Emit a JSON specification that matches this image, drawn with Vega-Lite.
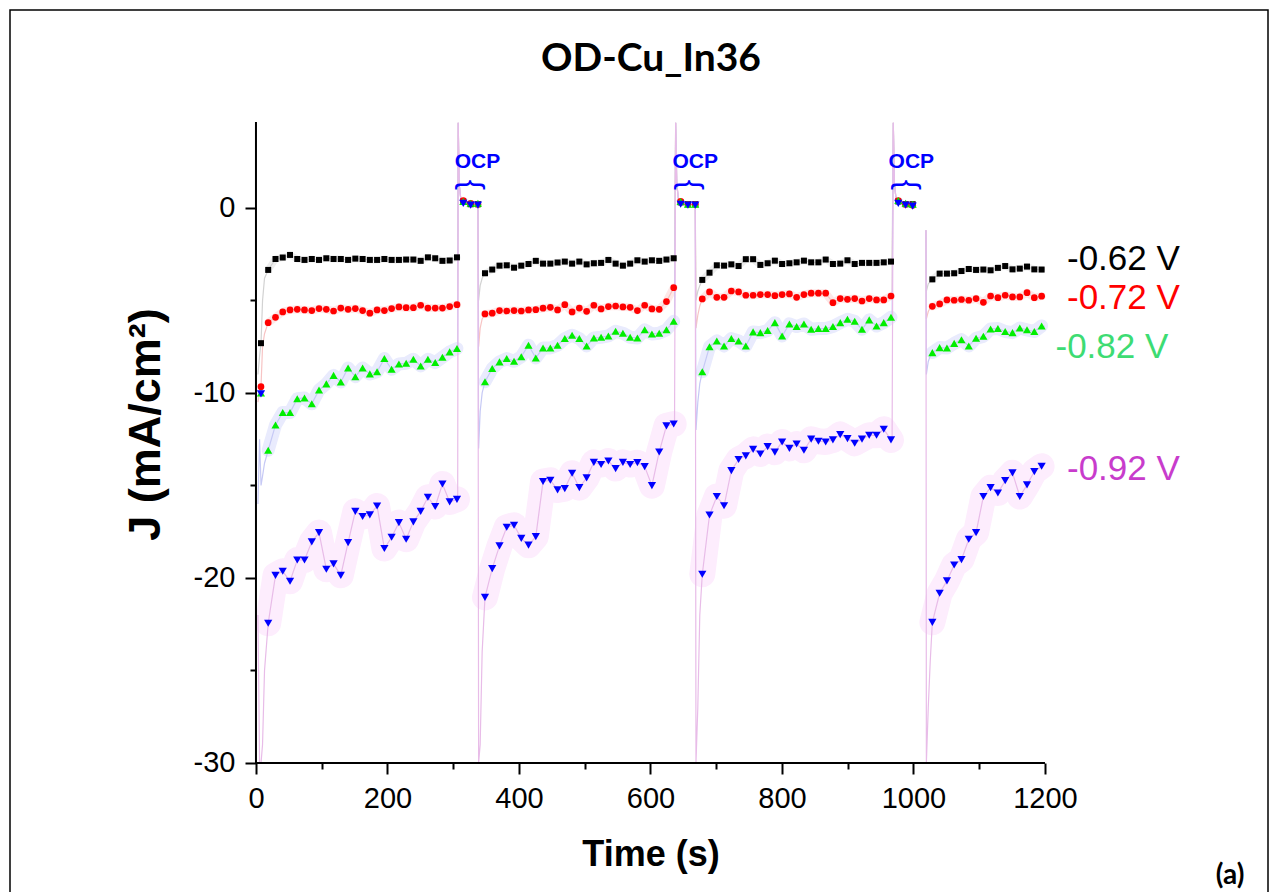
{
"$schema":"https://vega.github.io/schema/vega-lite/v6.json",
"width":1258,"height":900,
"autosize":{"type":"none"},
"padding":{"left":10,"top":10,"right":10,"bottom":0},
"background":"white",
"config":{"view":{"stroke":"black","strokeWidth":1.5},"font":"Liberation Sans"},
"title":{"text":"OD-Cu_In36","font":"Lato","fontSize":39,"fontWeight":"bold","color":"black","anchor":"middle","frame":"group","offset":-100,"baseline":"alphabetic","dx":12},
"datasets":{
"ca":[
{"t":3,"g":0,"k":"r","run":1,"V062":-9,"V072":-10.5,"V082":-16,"V092":-22},
{"t":5.5,"g":0,"k":"r","run":1,"V062":-8,"V072":-10,"V082":-12.5,"V092":-30},
{"t":7.6,"g":1,"k":"mo","run":1,"V062":-7.31,"V072":-9.66,"V082":-10.0,"V092":-10.05},
{"t":7.7,"g":0,"k":"r","run":1,"V062":-7.3,"V072":-9.6,"V082":-15,"V092":-30},
{"t":10,"g":0,"k":"r","run":1,"V062":-5,"V072":-7.5,"V082":-14.5,"V092":-29},
{"t":13,"g":0,"k":"r","run":1,"V062":-3.8,"V072":-6.8,"V082":-13.8,"V092":-25},
{"t":18.6,"g":1,"k":"m","run":1,"V062":-3.35,"V072":-6.2,"V082":-13.1,"V092":-22.45},
{"t":29.7,"g":1,"k":"m","run":1,"V062":-2.76,"V072":-5.91,"V082":-11.73,"V092":-19.86},
{"t":40.7,"g":1,"k":"m","run":1,"V062":-2.68,"V072":-5.62,"V082":-11.06,"V092":-19.64},
{"t":51.8,"g":1,"k":"m","run":1,"V062":-2.54,"V072":-5.51,"V082":-11.06,"V092":-20.18},
{"t":62.8,"g":1,"k":"m","run":1,"V062":-2.76,"V072":-5.48,"V082":-10.31,"V092":-19.03},
{"t":73.8,"g":1,"k":"m","run":1,"V062":-2.81,"V072":-5.51,"V082":-10.27,"V092":-19.03},
{"t":84.9,"g":1,"k":"m","run":1,"V062":-2.76,"V072":-5.55,"V082":-10.59,"V092":-18.05},
{"t":95.9,"g":1,"k":"m","run":1,"V062":-2.81,"V072":-5.44,"V082":-9.84,"V092":-17.55},
{"t":107.0,"g":1,"k":"m","run":1,"V062":-2.72,"V072":-5.48,"V082":-9.51,"V092":-19.53},
{"t":118.0,"g":1,"k":"m","run":1,"V062":-2.76,"V072":-5.57,"V082":-9.05,"V092":-19.24},
{"t":129.0,"g":1,"k":"m","run":1,"V062":-2.76,"V072":-5.41,"V082":-9.41,"V092":-19.86},
{"t":140.1,"g":1,"k":"m","run":1,"V062":-2.81,"V072":-5.48,"V082":-8.65,"V092":-18.09},
{"t":151.1,"g":1,"k":"m","run":1,"V062":-2.74,"V072":-5.44,"V082":-9.12,"V092":-16.4},
{"t":162.2,"g":1,"k":"m","run":1,"V062":-2.76,"V072":-5.55,"V082":-8.65,"V092":-16.68},
{"t":173.2,"g":1,"k":"m","run":1,"V062":-2.81,"V072":-5.69,"V082":-8.97,"V092":-16.59},
{"t":184.2,"g":1,"k":"m","run":1,"V062":-2.81,"V072":-5.51,"V082":-8.86,"V092":-16.11},
{"t":195.3,"g":1,"k":"m","run":1,"V062":-2.76,"V072":-5.55,"V082":-8.14,"V092":-18.41},
{"t":206.3,"g":1,"k":"m","run":1,"V062":-2.81,"V072":-5.44,"V082":-8.72,"V092":-17.8},
{"t":217.4,"g":1,"k":"m","run":1,"V062":-2.81,"V072":-5.35,"V082":-8.43,"V092":-17.01},
{"t":228.4,"g":1,"k":"m","run":1,"V062":-2.79,"V072":-5.39,"V082":-8.4,"V092":-17.91},
{"t":239.4,"g":1,"k":"m","run":1,"V062":-2.79,"V072":-5.39,"V082":-8.18,"V092":-16.97},
{"t":250.5,"g":1,"k":"m","run":1,"V062":-2.86,"V072":-5.26,"V082":-8.54,"V092":-16.4},
{"t":261.5,"g":1,"k":"m","run":1,"V062":-2.67,"V072":-5.41,"V082":-8.18,"V092":-15.64},
{"t":272.6,"g":1,"k":"m","run":1,"V062":-2.72,"V072":-5.41,"V082":-8.36,"V092":-16.14},
{"t":283.6,"g":1,"k":"m","run":1,"V062":-2.86,"V072":-5.41,"V082":-8.07,"V092":-14.92},
{"t":294.6,"g":1,"k":"m","run":1,"V062":-2.84,"V072":-5.33,"V082":-7.78,"V092":-15.89},
{"t":305.7,"g":1,"k":"m","run":1,"V062":-2.67,"V072":-5.23,"V082":-7.6,"V092":-15.75},
{"t":306.8,"g":0,"k":"r","run":1,"V062":-2.7,"V072":-5.2,"V082":-7.5,"V092":-15.5},
{"t":307.6,"g":0,"k":"r","run":1,"V062":4.6,"V072":4.6,"V082":4.6,"V092":4.6},
{"t":309.0,"g":0,"k":"r","run":1,"V062":1.3,"V072":1.3,"V082":1.3,"V092":1.3},
{"t":311.5,"g":0,"k":"r","run":1,"V062":0.5,"V072":0.5,"V082":0.5,"V092":0.5},
{"t":315.3,"g":0,"k":"o","run":1,"V062":0.35,"V072":0.4,"V082":0.35,"V092":0.25},
{"t":326.5,"g":0,"k":"o","run":1,"V062":0.2,"V072":0.25,"V082":0.25,"V092":0.15},
{"t":337.6,"g":0,"k":"o","run":1,"V062":0.2,"V072":0.2,"V082":0.25,"V092":0.15},
{"t":338.6,"g":0,"k":"r","run":1,"V062":-5,"V072":-7.5,"V082":-13,"V092":-30},
{"t":341,"g":0,"k":"r","run":1,"V062":-4.2,"V072":-6.5,"V082":-11,"V092":-29},
{"t":344,"g":0,"k":"r","run":1,"V062":-3.8,"V072":-6,"V082":-10,"V092":-24},
{"t":348.3,"g":2,"k":"m","run":1,"V062":-3.53,"V072":-5.73,"V082":-9.39,"V092":-21.05},
{"t":359.3,"g":2,"k":"m","run":1,"V062":-3.33,"V072":-5.69,"V082":-8.68,"V092":-19.5},
{"t":370.4,"g":2,"k":"m","run":1,"V062":-3.12,"V072":-5.55,"V082":-8.32,"V092":-18.27},
{"t":381.4,"g":2,"k":"m","run":1,"V062":-3.10,"V072":-5.57,"V082":-8.14,"V092":-17.26},
{"t":392.5,"g":2,"k":"m","run":1,"V062":-3.23,"V072":-5.55,"V082":-8.29,"V092":-17.15},
{"t":403.5,"g":2,"k":"m","run":1,"V062":-3.12,"V072":-5.57,"V082":-8.04,"V092":-17.86},
{"t":414.5,"g":2,"k":"m","run":1,"V062":-3.03,"V072":-5.51,"V082":-7.42,"V092":-18.23},
{"t":425.6,"g":2,"k":"m","run":1,"V062":-2.86,"V072":-5.50,"V082":-8.11,"V092":-17.77},
{"t":436.6,"g":2,"k":"m","run":1,"V062":-3.01,"V072":-5.42,"V082":-7.57,"V092":-14.79},
{"t":447.7,"g":2,"k":"m","run":1,"V062":-3.01,"V072":-5.37,"V082":-7.57,"V092":-14.72},
{"t":458.7,"g":2,"k":"m","run":1,"V062":-2.95,"V072":-5.51,"V082":-7.42,"V092":-15.24},
{"t":469.7,"g":2,"k":"m","run":1,"V062":-2.90,"V072":-5.23,"V082":-7.06,"V092":-15.17},
{"t":480.8,"g":2,"k":"m","run":1,"V062":-3.01,"V072":-5.62,"V082":-6.88,"V092":-14.34},
{"t":491.8,"g":2,"k":"m","run":1,"V062":-2.90,"V072":-5.41,"V082":-7.06,"V092":-15.12},
{"t":502.9,"g":2,"k":"m","run":1,"V062":-3.05,"V072":-5.59,"V082":-7.46,"V092":-14.59},
{"t":513.9,"g":2,"k":"m","run":1,"V062":-2.99,"V072":-5.26,"V082":-7.03,"V092":-13.75},
{"t":524.9,"g":2,"k":"m","run":1,"V062":-2.97,"V072":-5.46,"V082":-6.99,"V092":-13.87},
{"t":536.0,"g":2,"k":"m","run":1,"V062":-2.81,"V072":-5.33,"V082":-6.92,"V092":-13.68},
{"t":547.0,"g":2,"k":"m","run":1,"V062":-3.01,"V072":-5.30,"V082":-6.67,"V092":-14.09},
{"t":558.1,"g":2,"k":"m","run":1,"V062":-3.12,"V072":-5.35,"V082":-6.77,"V092":-13.75},
{"t":569.1,"g":2,"k":"m","run":1,"V062":-3.01,"V072":-5.37,"V082":-6.99,"V092":-13.87},
{"t":580.1,"g":2,"k":"m","run":1,"V062":-2.83,"V072":-5.55,"V082":-7.03,"V092":-13.77},
{"t":591.2,"g":2,"k":"m","run":1,"V062":-2.90,"V072":-5.26,"V082":-6.59,"V092":-13.98},
{"t":602.2,"g":2,"k":"m","run":1,"V062":-2.83,"V072":-5.46,"V082":-6.81,"V092":-15.01},
{"t":613.3,"g":2,"k":"m","run":1,"V062":-2.86,"V072":-5.48,"V082":-6.77,"V092":-13.19},
{"t":624.3,"g":2,"k":"m","run":1,"V062":-2.79,"V072":-5.06,"V082":-6.59,"V092":-11.78},
{"t":635.3,"g":2,"k":"m","run":1,"V062":-2.72,"V072":-4.31,"V082":-6.13,"V092":-11.68},
{"t":636.6,"g":0,"k":"r","run":1,"V062":-2.7,"V072":-4.3,"V082":-6.1,"V092":-11.5},
{"t":638.3,"g":0,"k":"r","run":1,"V062":4.6,"V072":4.6,"V082":4.6,"V092":4.6},
{"t":640.0,"g":0,"k":"r","run":1,"V062":1.3,"V072":1.3,"V082":1.3,"V092":1.3},
{"t":642.5,"g":0,"k":"r","run":1,"V062":0.5,"V072":0.5,"V082":0.5,"V092":0.5},
{"t":645.9,"g":0,"k":"o","run":1,"V062":0.3,"V072":0.35,"V082":0.35,"V092":0.2},
{"t":657.0,"g":0,"k":"o","run":1,"V062":0.2,"V072":0.2,"V082":0.2,"V092":0.15},
{"t":668.1,"g":0,"k":"o","run":1,"V062":0.2,"V072":0.2,"V082":0.2,"V092":0.15},
{"t":669.2,"g":0,"k":"r","run":1,"V062":-5,"V072":-6.5,"V082":-12,"V092":-30},
{"t":672,"g":0,"k":"r","run":1,"V062":-4.5,"V072":-5.8,"V082":-10.5,"V092":-27},
{"t":675,"g":0,"k":"r","run":1,"V062":-4.2,"V072":-5.3,"V082":-9.5,"V092":-22},
{"t":678.8,"g":3,"k":"m","run":1,"V062":-3.89,"V072":-4.92,"V082":-8.86,"V092":-19.8},
{"t":689.8,"g":3,"k":"m","run":1,"V062":-3.50,"V072":-4.54,"V082":-7.50,"V092":-16.6},
{"t":700.9,"g":3,"k":"m","run":1,"V062":-3.10,"V072":-4.83,"V082":-7.19,"V092":-15.6},
{"t":711.9,"g":3,"k":"m","run":1,"V062":-3.12,"V072":-4.83,"V082":-7.46,"V092":-16.1},
{"t":723.0,"g":3,"k":"m","run":1,"V062":-3.05,"V072":-4.49,"V082":-7.06,"V092":-14.2},
{"t":734.0,"g":3,"k":"m","run":1,"V062":-3.14,"V072":-4.54,"V082":-7.19,"V092":-13.6},
{"t":745.0,"g":3,"k":"m","run":1,"V062":-2.77,"V072":-4.72,"V082":-7.46,"V092":-13.4},
{"t":756.1,"g":3,"k":"m","run":1,"V062":-2.77,"V072":-4.72,"V082":-6.70,"V092":-13.05},
{"t":767.1,"g":3,"k":"m","run":1,"V062":-3.08,"V072":-4.68,"V082":-6.74,"V092":-13.3},
{"t":778.2,"g":3,"k":"m","run":1,"V062":-2.99,"V072":-4.68,"V082":-6.63,"V092":-12.9},
{"t":789.2,"g":3,"k":"m","run":1,"V062":-2.85,"V072":-4.74,"V082":-6.20,"V092":-13.2},
{"t":800.2,"g":3,"k":"m","run":1,"V062":-3.03,"V072":-4.68,"V082":-6.92,"V092":-12.65},
{"t":811.3,"g":3,"k":"m","run":1,"V062":-2.99,"V072":-4.65,"V082":-6.27,"V092":-13.0},
{"t":822.3,"g":3,"k":"m","run":1,"V062":-2.94,"V072":-4.83,"V082":-6.41,"V092":-12.76},
{"t":833.4,"g":3,"k":"m","run":1,"V062":-2.85,"V072":-4.68,"V082":-6.27,"V092":-13.1},
{"t":844.4,"g":3,"k":"m","run":1,"V062":-2.94,"V072":-4.61,"V082":-6.56,"V092":-12.5},
{"t":855.4,"g":3,"k":"m","run":1,"V062":-2.94,"V072":-4.61,"V082":-6.52,"V092":-12.61},
{"t":866.5,"g":3,"k":"m","run":1,"V062":-2.79,"V072":-4.61,"V082":-6.52,"V092":-12.65},
{"t":877.5,"g":3,"k":"m","run":1,"V062":-3.03,"V072":-5.12,"V082":-6.41,"V092":-12.54},
{"t":888.6,"g":3,"k":"m","run":1,"V062":-3.01,"V072":-4.90,"V082":-6.20,"V092":-12.25},
{"t":899.6,"g":3,"k":"m","run":1,"V062":-2.83,"V072":-4.94,"V082":-6.02,"V092":-12.47},
{"t":910.6,"g":3,"k":"m","run":1,"V062":-3.03,"V072":-4.90,"V082":-6.13,"V092":-12.72},
{"t":921.7,"g":3,"k":"m","run":1,"V062":-2.97,"V072":-5.03,"V082":-6.56,"V092":-12.5},
{"t":932.7,"g":3,"k":"m","run":1,"V062":-2.97,"V072":-4.90,"V082":-6.05,"V092":-12.29},
{"t":943.8,"g":3,"k":"m","run":1,"V062":-2.97,"V072":-4.97,"V082":-6.38,"V092":-12.29},
{"t":954.8,"g":3,"k":"m","run":1,"V062":-2.94,"V072":-4.97,"V082":-6.20,"V092":-11.96},
{"t":965.8,"g":3,"k":"m","run":1,"V062":-2.90,"V072":-4.76,"V082":-5.91,"V092":-12.54},
{"t":967.5,"g":0,"k":"r","run":1,"V062":-2.9,"V072":-4.8,"V082":-5.9,"V092":-12.5},
{"t":969.3,"g":0,"k":"r","run":1,"V062":4.6,"V072":4.6,"V082":4.6,"V092":4.6},
{"t":971.0,"g":0,"k":"r","run":1,"V062":1.3,"V072":1.3,"V082":1.3,"V092":1.3},
{"t":973.5,"g":0,"k":"r","run":1,"V062":0.5,"V072":0.5,"V082":0.5,"V092":0.5},
{"t":976.9,"g":0,"k":"o","run":1,"V062":0.35,"V072":0.4,"V082":0.4,"V092":0.25},
{"t":988.1,"g":0,"k":"o","run":1,"V062":0.2,"V072":0.2,"V082":0.25,"V092":0.15},
{"t":998.8,"g":0,"k":"o","run":1,"V062":0.2,"V072":0.15,"V082":0.2,"V092":0.1},
{"t":1019.0,"g":0,"k":"r","run":2,"V062":-1.2,"V072":-1.2,"V082":-1.2,"V092":-1.2},
{"t":1019.6,"g":0,"k":"r","run":2,"V062":-4.5,"V072":-6,"V082":-9,"V092":-30},
{"t":1022.5,"g":0,"k":"r","run":2,"V062":-4.1,"V072":-5.6,"V082":-8.3,"V092":-27},
{"t":1025.5,"g":0,"k":"r","run":2,"V062":-4.0,"V072":-5.4,"V082":-8.0,"V092":-24.5},
{"t":1028.7,"g":4,"k":"m","run":2,"V062":-3.86,"V072":-5.32,"V082":-7.82,"V092":-22.4},
{"t":1039.8,"g":4,"k":"m","run":2,"V062":-3.55,"V072":-5.19,"V082":-7.55,"V092":-20.83},
{"t":1050.9,"g":4,"k":"m","run":2,"V062":-3.55,"V072":-4.97,"V082":-7.57,"V092":-20.16},
{"t":1061.9,"g":4,"k":"m","run":2,"V062":-3.53,"V072":-4.99,"V082":-7.32,"V092":-19.3},
{"t":1073.0,"g":4,"k":"m","run":2,"V062":-3.41,"V072":-4.95,"V082":-7.12,"V092":-19.01},
{"t":1084.1,"g":4,"k":"m","run":2,"V062":-3.30,"V072":-4.99,"V082":-7.46,"V092":-17.91},
{"t":1095.2,"g":4,"k":"m","run":2,"V062":-3.35,"V072":-4.90,"V082":-7.04,"V092":-17.55},
{"t":1106.3,"g":4,"k":"m","run":2,"V062":-3.33,"V072":-5.10,"V082":-6.94,"V092":-15.6},
{"t":1117.3,"g":4,"k":"m","run":2,"V062":-3.37,"V072":-4.76,"V082":-6.54,"V092":-15.12},
{"t":1128.4,"g":4,"k":"m","run":2,"V062":-3.24,"V072":-4.85,"V082":-6.52,"V092":-15.41},
{"t":1139.5,"g":4,"k":"m","run":2,"V062":-3.14,"V072":-4.72,"V082":-6.68,"V092":-14.74},
{"t":1150.6,"g":4,"k":"m","run":2,"V062":-3.32,"V072":-4.81,"V082":-6.74,"V092":-14.32},
{"t":1161.7,"g":4,"k":"m","run":2,"V062":-3.28,"V072":-4.81,"V082":-6.49,"V092":-15.6},
{"t":1172.7,"g":4,"k":"m","run":2,"V062":-3.17,"V072":-4.58,"V082":-6.59,"V092":-14.97},
{"t":1183.8,"g":4,"k":"m","run":2,"V062":-3.32,"V072":-4.85,"V082":-6.68,"V092":-14.25},
{"t":1194.9,"g":4,"k":"m","run":2,"V062":-3.33,"V072":-4.77,"V082":-6.38,"V092":-13.96},
{"t":1199.5,"g":0,"k":"r","run":2,"V062":-3.3,"V072":-4.75,"V082":-6.4,"V092":-13.8}
],
"axislines":[{"t":0,"t2":1200,"J":-30,"J2":-30},{"t":0,"t2":0,"J":-30,"J2":4.65}],
"labels":[{"label":"-0.62 V","t":1233.5,"J":-3.35},{"label":"-0.72 V","t":1233.5,"J":-5.48},{"label":"-0.82 V","t":1216,"J":-8.12},{"label":"-0.92 V","t":1233.5,"J":-14.7}],
"ocp":[{"label":"OCP","t":336.9,"J":2.15},{"label":"OCP","t":668.1,"J":2.15},{"label":"OCP","t":996.7,"J":2.15}],
"brace":[{"t":327.4,"J":1.24},{"t":659.4,"J":1.24},{"t":990.1,"J":1.24}],
"corner":[{"label":"(a)","t":1481.5,"J":-36.1}]
},
"encoding":{
"x":{"field":"t","type":"quantitative","scale":{"domain":[-374.1,1539.2],"nice":false,"zero":false},"axis":null},
"y":{"field":"J","type":"quantitative","scale":{"domain":[-37.95,10.70],"nice":false,"zero":false},"axis":null}
},
"layer":[
{"data":{"name":"ca"},"transform":[{"filter":"datum.k === 'm'"},{"fold":["V092"],"as":["series","J"]}],
 "mark":{"type":"line","color":"#fdedfd","strokeWidth":26,"strokeCap":"round","strokeJoin":"round"},
 "encoding":{"detail":{"field":"g","type":"nominal"}}},
{"data":{"name":"ca"},"transform":[{"filter":"datum.k === 'm'"},{"fold":["V082"],"as":["series","J"]}],
 "mark":{"type":"line","color":"#e9ebfd","strokeWidth":13,"strokeCap":"round","strokeJoin":"round"},
 "encoding":{"detail":{"field":"g","type":"nominal"}}},
{"data":{"name":"ca"},"transform":[{"filter":"datum.k === 'm'"},{"fold":["V072"],"as":["series","J"]}],
 "mark":{"type":"line","color":"#fde8e8","strokeWidth":8,"strokeCap":"round","strokeJoin":"round"},
 "encoding":{"detail":{"field":"g","type":"nominal"}}},
{"data":{"name":"ca"},"transform":[{"filter":"datum.k === 'm'"},{"fold":["V062"],"as":["series","J"]}],
 "mark":{"type":"line","color":"#eeeeee","strokeWidth":7,"strokeCap":"round","strokeJoin":"round"},
 "encoding":{"detail":{"field":"g","type":"nominal"}}},
{"data":{"name":"ca"},"transform":[{"filter":"datum.k !== 'mo'"},{"fold":["V062","V072","V082","V092"],"as":["series","J"]}],
 "mark":{"type":"line","strokeWidth":1.2},
 "encoding":{"stroke":{"field":"series","type":"nominal","scale":{"domain":["V062","V072","V082","V092"],"range":["#d2d2d2","#f7c4c4","#c6c9f5","#e8bce8"]},"legend":null},
  "detail":{"field":"run","type":"nominal"}}},
{"data":{"name":"axislines"},"mark":{"type":"rule","color":"black","strokeWidth":2},
 "encoding":{
  "x":{"field":"t","type":"quantitative","scale":{"domain":[-374.1,1539.2],"nice":false,"zero":false},
   "axis":{"orient":"bottom","values":[0,200,400,600,800,1000,1200],"format":"d","offset":-147,"domain":false,"grid":false,"ticks":true,"tickSize":11,"tickWidth":2,"tickColor":"black","labelFont":"Liberation Sans","labelFontSize":29,"labelColor":"black","labelPadding":10,"labelFlush":false,"labelOverlap":false,"labelBound":false,"title":"Time (s)","titleFont":"Liberation Sans","titleFontSize":36,"titleFontWeight":"bold","titleColor":"black","titleX":640.5,"titleY":102,"titleBaseline":"alphabetic","titleAlign":"center"}},
  "x2":{"field":"t2"},
  "y":{"field":"J","type":"quantitative","scale":{"domain":[-37.95,10.70],"nice":false,"zero":false},
   "axis":{"orient":"left","values":[-30,-20,-10,0],"labelExpr":"'' + datum.value","offset":-246,"domain":false,"grid":false,"ticks":true,"tickSize":11,"tickWidth":2,"tickColor":"black","labelFont":"Liberation Sans","labelFontSize":29,"labelColor":"black","labelPadding":10,"labelFlush":false,"labelOverlap":false,"labelBound":false,"title":"J (mA/cm²)","titleFont":"Liberation Sans","titleFontSize":45,"titleFontWeight":"bold","titleColor":"black","titleAngle":270,"titleX":-111,"titleY":414,"titleBaseline":"middle","titleAlign":"center"}},
  "y2":{"field":"J2"}}},
{"data":{"name":"axislines"},"mark":{"type":"rule","strokeOpacity":0},
 "encoding":{
  "x":{"field":"t","type":"quantitative","scale":{"domain":[-374.1,1539.2],"nice":false,"zero":false},
   "axis":{"orient":"bottom","values":[100,300,500,700,900,1100],"offset":-147,"domain":false,"grid":false,"tickSize":6,"tickWidth":2,"tickColor":"black","labels":false,"title":null}},
  "x2":{"field":"t2"},
  "y":{"field":"J","type":"quantitative","scale":{"domain":[-37.95,10.70],"nice":false,"zero":false},
   "axis":{"orient":"left","values":[-25,-15,-5],"offset":-246,"domain":false,"grid":false,"tickSize":6,"tickWidth":2,"tickColor":"black","labels":false,"title":null}},
  "y2":{"field":"J2"}}},
{"data":{"name":"ca"},"transform":[{"filter":"datum.k !== 'r'"},{"fold":["V062"],"as":["series","J"]}],
 "mark":{"type":"point","shape":"square","filled":true,"color":"#000000","size":36,"opacity":1}},
{"data":{"name":"ca"},"transform":[{"filter":"datum.k !== 'r'"},{"fold":["V072"],"as":["series","J"]}],
 "mark":{"type":"point","shape":"circle","filled":true,"color":"#ff0000","size":45,"opacity":1}},
{"data":{"name":"ca"},"transform":[{"filter":"datum.k !== 'r'"},{"fold":["V082"],"as":["series","J"]}],
 "mark":{"type":"point","shape":"triangle-up","filled":true,"color":"#00ee00","size":66,"opacity":1}},
{"data":{"name":"ca"},"transform":[{"filter":"datum.k !== 'r'"},{"fold":["V092"],"as":["series","J"]}],
 "mark":{"type":"point","shape":"triangle-down","filled":true,"color":"#0000ff","size":68,"opacity":1}},
{"data":{"name":"labels"},"mark":{"type":"text","align":"left","baseline":"alphabetic","fontSize":35,"font":"Liberation Sans"},
 "encoding":{"text":{"field":"label"},"color":{"field":"label","type":"nominal","scale":{"domain":["-0.62 V","-0.72 V","-0.82 V","-0.92 V"],"range":["#000000","#ff0000","#3ddc73","#c83ccc"]},"legend":null}}},
{"data":{"name":"ocp"},"mark":{"type":"text","align":"center","baseline":"alphabetic","fontSize":21,"fontWeight":"bold","font":"Liberation Sans","color":"#0000ff"},
 "encoding":{"text":{"field":"label"}}},
{"data":{"name":"brace"},"mark":{"type":"text","text":"{","angle":90,"align":"center","baseline":"middle","fontSize":31,"font":"Liberation Sans","color":"#0000ff"}},
{"data":{"name":"corner"},"mark":{"type":"text","align":"center","baseline":"middle","fontSize":28,"fontWeight":"bold","font":"Lato","color":"black"},
 "encoding":{"text":{"field":"label"}}}
],
"resolve":{"axis":{"x":"independent","y":"independent"}}
}
